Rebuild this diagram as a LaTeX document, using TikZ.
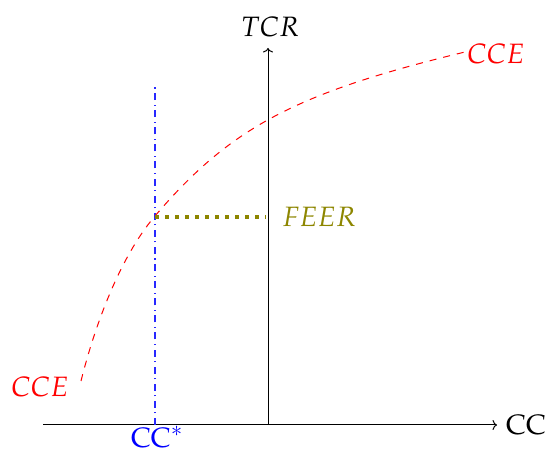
\documentclass[tikz,border=0pt]{standalone}
\usepackage{mathpazo}
\usetikzlibrary{arrows.meta}
\definecolor{ccblue}{RGB}{40,40,255}
\begin{document}
\begin{tikzpicture}[x=1pt,y=-1pt,
  lbl/.style={inner sep=0pt,font=\fontsize{28}{32}\selectfont},
  axis/.style={line width=1pt,-{To[length=4.5pt,width=10pt]}},
  cce/.style={draw=red,line width=1pt,dash pattern=on 7pt off 7pt},
  ccstar/.style={color=ccblue,line width=1.1pt,dash pattern=on 7pt off 4.5pt on 1.1pt off 4.5pt},
  feer/.style={draw=olive,line width=4pt,dash pattern=on 4pt off 6pt}]
\useasboundingbox (0,0) rectangle (547,457);
% axes
\coordinate (xs) at (43,425);
\coordinate (xe) at (497,425);
\coordinate (ys) at (268,425);
\coordinate (ye) at (268,48);
\draw[axis] (xs) -- (xe);
\draw[axis] (ys) -- (ye);
\node[lbl,anchor=base west] (cc) at (506,435) {$\mathrm{CC}$};
\node[lbl,anchor=base] (tcr) at (270,37) {$TCR$};
% CC* line
\coordinate (bt) at (155,85);
\coordinate (bb) at (155,425);
\draw[ccstar] (bb) -- (bt);
\node[lbl,anchor=base,text=blue] (ccs) at (157,448) {$\mathrm{CC}^{*}$};
% curve
\coordinate (c0) at (81,381);
\coordinate (c1) at (155,216);
\coordinate (c2) at (465,52);
\draw[cce] (c0) .. controls (95,325) and (120,257) .. (c1)
                .. controls (230,128) and (295,93) .. (c2);
\node[lbl,anchor=base west,red] (cce1) at (11,397) {$CCE$};
\node[lbl,anchor=base west,red] (cce2) at (467,64) {$CCE$};
% FEER
\coordinate (fa) at (155,217);
\coordinate (fb) at (266,217);
\draw[feer] (fa) -- (fb);
\node[lbl,anchor=base west,olive] (feerl) at (282,227) {$FEER$};
\end{tikzpicture}
\end{document}
